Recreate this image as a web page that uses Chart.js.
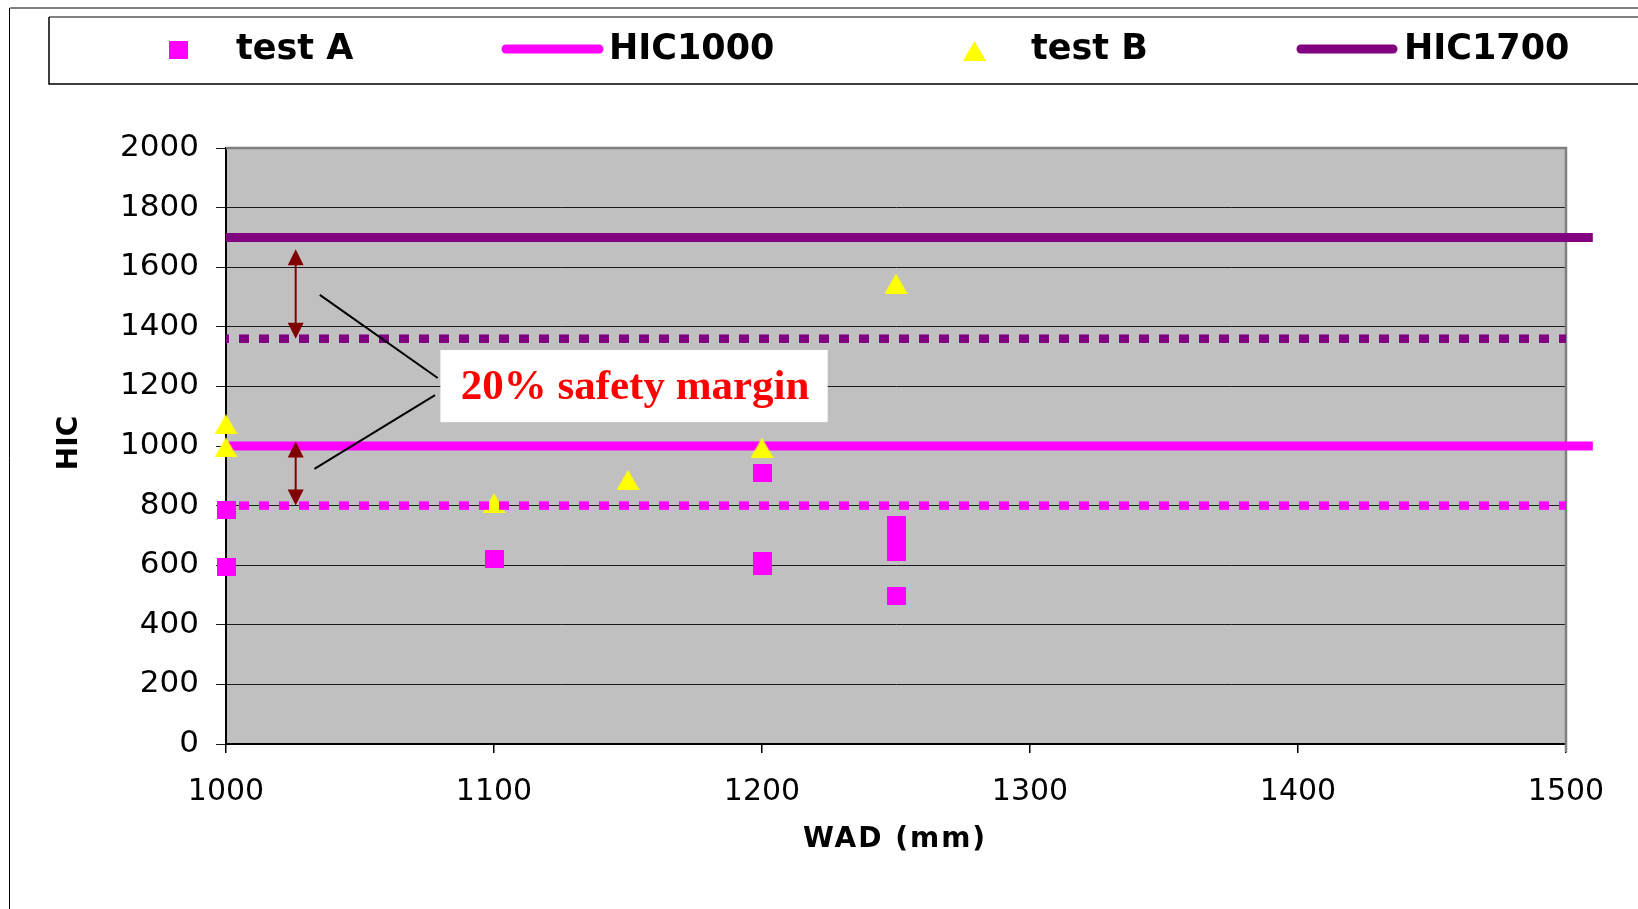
<!DOCTYPE html>
<html>
<head>
<meta charset="utf-8">
<title>HIC vs WAD</title>
<script src="https://cdn.jsdelivr.net/npm/chart.js@4.4.1/dist/chart.umd.min.js"></script>
<style>
  html, body { margin: 0; padding: 0; background: #fff; }
  canvas { display: block; }
</style>
</head>
<body>
<canvas id="hicChart" width="1638" height="909"></canvas>
<script>
// data
const testAWad = [1000, 1000, 1100, 1200, 1200, 1200, 1250, 1250, 1250, 1250];
const testAHic = [595, 784, 620, 909, 615, 597, 734, 675, 644, 498];
const testBWad = [1000, 1000, 1100, 1150, 1200, 1250];
const testBHic = [1073, 996, 808, 886, 994, 1545];
const limitWad = [1000, 1510];
const marginWad = [1000, 1500];
const hic1000 = 1000;
const hic1700 = 1700;
const safety = 0.8;
const wadTicks = [1000, 1100, 1200, 1300, 1400, 1500];
const hicTicks = [0, 200, 400, 600, 800, 1000, 1200, 1400, 1600, 1800, 2000];

// annotation, in data units
const arrowWad = 1026;
const arrowSpans = [[1660, 1360], [1015, 800]];
const leaderLines = [[[1035, 1507], [1079, 1228]], [[1033, 923], [1078, 1171]]];
const noteBox = { x0: 1080, x1: 1224.5, y0: 1322, y1: 1080, text: '20% safety margin' };

const toPoints = (xs, ys) => xs.map((x, i) => ({ x: x, y: ys[i] }));
const flat = (xs, v) => xs.map(x => ({ x: x, y: v }));

// markers centred on their box, like the original chart's markers
function markerCanvas(w, h, color, shape) {
    const c = document.createElement('canvas');
    c.width = w;
    c.height = h;
    const g = c.getContext('2d');
    g.fillStyle = color;
    if (shape === 'triangle') {
        g.beginPath();
        g.moveTo(w / 2, 0);
        g.lineTo(w, h);
        g.lineTo(0, h);
        g.closePath();
        g.fill();
    } else {
        g.fillRect(0, 0, w, h);
    }
    return c;
}
const squareMark = markerCanvas(19, 18, '#ff00ff', 'rect');
const triangleMark = markerCanvas(23, 20, '#ffff00', 'triangle');

const decor = {
    id: 'decor',
    beforeDraw(chart) {
        const ctx = chart.ctx;
        const a = chart.chartArea;
        ctx.save();
        ctx.fillStyle = '#fff';
        ctx.fillRect(0, 0, chart.width, chart.height);
        // outer frame
        ctx.strokeStyle = '#808080';
        ctx.lineWidth = 2;
        ctx.beginPath();
        ctx.moveTo(10, 8);
        ctx.lineTo(chart.width, 8);
        ctx.stroke();
        ctx.strokeStyle = '#000';
        ctx.lineWidth = 1;
        ctx.beginPath();
        ctx.moveTo(9.5, 8);
        ctx.lineTo(9.5, chart.height);
        ctx.stroke();
        // plot background
        ctx.fillStyle = '#c0c0c0';
        ctx.fillRect(a.left, a.top, a.right - a.left, a.bottom - a.top);
        ctx.restore();
    },
    beforeDatasetsDraw(chart) {
        const ctx = chart.ctx;
        const a = chart.chartArea;
        ctx.save();
        ctx.strokeStyle = '#808080';
        ctx.lineWidth = 2.5;
        ctx.beginPath();
        ctx.moveTo(a.left, a.top);
        ctx.lineTo(a.right, a.top);
        ctx.lineTo(a.right, a.bottom + 8);
        ctx.stroke();
        ctx.restore();
    },
    afterDraw(chart) {
        const ctx = chart.ctx;
        const xs = chart.scales.x;
        const ys = chart.scales.y;
        const px = v => xs.getPixelForValue(v);
        const py = v => ys.getPixelForValue(v);
        ctx.save();

        // double arrows
        ctx.strokeStyle = '#800000';
        ctx.fillStyle = '#800000';
        ctx.lineWidth = 2;
        arrowSpans.forEach(([top, bot]) => {
            const x = px(arrowWad), y0 = py(top), y1 = py(bot);
            ctx.beginPath();
            ctx.moveTo(x, y0 + 10);
            ctx.lineTo(x, y1 - 10);
            ctx.stroke();
            ctx.beginPath();
            ctx.moveTo(x, y0);
            ctx.lineTo(x - 8, y0 + 16);
            ctx.lineTo(x + 8, y0 + 16);
            ctx.closePath();
            ctx.fill();
            ctx.beginPath();
            ctx.moveTo(x, y1);
            ctx.lineTo(x - 8, y1 - 16);
            ctx.lineTo(x + 8, y1 - 16);
            ctx.closePath();
            ctx.fill();
        });

        // leader lines
        ctx.strokeStyle = '#000';
        ctx.lineWidth = 2;
        leaderLines.forEach(([p, q]) => {
            ctx.beginPath();
            ctx.moveTo(px(p[0]), py(p[1]));
            ctx.lineTo(px(q[0]), py(q[1]));
            ctx.stroke();
        });

        // note box
        const bx0 = px(noteBox.x0), bx1 = px(noteBox.x1);
        const by0 = py(noteBox.y0), by1 = py(noteBox.y1);
        ctx.fillStyle = '#fff';
        ctx.fillRect(bx0, by0, bx1 - bx0, by1 - by0);
        ctx.fillStyle = '#ff0000';
        ctx.font = 'bold 43px "Liberation Serif"';
        ctx.textAlign = 'center';
        ctx.textBaseline = 'middle';
        ctx.fillText(noteBox.text, (bx0 + bx1) / 2 + 1, (by0 + by1) / 2 + 2);

        // axis titles
        ctx.fillStyle = '#000';
        ctx.font = 'bold 28px "DejaVu Sans"';
        ctx.letterSpacing = '2px';
        ctx.fillText('WAD (mm)', 895, 840);
        ctx.letterSpacing = '0px';
        ctx.save();
        ctx.translate(70, 443);
        ctx.rotate(-Math.PI / 2);
        ctx.fillText('HIC', 0, 0);
        ctx.restore();

        // legend box
        ctx.strokeStyle = '#808080';
        ctx.lineWidth = 2;
        ctx.beginPath();
        ctx.moveTo(49, 17);
        ctx.lineTo(chart.width, 17);
        ctx.stroke();
        ctx.strokeStyle = '#000';
        ctx.lineWidth = 1.5;
        ctx.beginPath();
        ctx.moveTo(49, 17);
        ctx.lineTo(49, 84);
        ctx.lineTo(chart.width, 84);
        ctx.stroke();

        // legend entries
        ctx.textAlign = 'left';
        ctx.font = 'bold 35px "DejaVu Sans"';
        ctx.drawImage(squareMark, 169, 41);
        ctx.fillStyle = '#000';
        ctx.fillText('test A', 236, 50);

        ctx.lineCap = 'round';
        ctx.lineWidth = 9;
        ctx.strokeStyle = '#ff00ff';
        ctx.beginPath();
        ctx.moveTo(506, 49);
        ctx.lineTo(599, 49);
        ctx.stroke();
        ctx.fillText('HIC1000', 609, 50);

        ctx.drawImage(triangleMark, 963, 41);
        ctx.fillText('test B', 1031, 50);

        ctx.strokeStyle = '#800080';
        ctx.beginPath();
        ctx.moveTo(1301, 49);
        ctx.lineTo(1393, 49);
        ctx.stroke();
        ctx.fillText('HIC1700', 1404, 50);

        ctx.restore();
    }
};

const ctx = document.getElementById('hicChart').getContext('2d');

new Chart(ctx, {
    type: 'scatter',
    data: {
        datasets: [
            {
                label: 'test A',
                data: toPoints(testAWad, testAHic),
                pointStyle: squareMark,
                pointRadius: 12,
                backgroundColor: '#ff00ff',
                borderColor: '#ff00ff',
                clip: false,
                order: 2
            },
            {
                label: 'HIC1000',
                data: flat(limitWad, hic1000),
                showLine: true,
                borderColor: '#ff00ff',
                borderWidth: 9,
                pointRadius: 0,
                clip: false,
                order: 5
            },
            {
                label: 'test B',
                data: toPoints(testBWad, testBHic),
                pointStyle: triangleMark,
                pointRadius: 12,
                backgroundColor: '#ffff00',
                borderColor: '#ffff00',
                clip: false,
                order: 3
            },
            {
                label: 'HIC1700',
                data: flat(limitWad, hic1700),
                showLine: true,
                borderColor: '#800080',
                borderWidth: 9,
                pointRadius: 0,
                clip: false,
                order: 4
            },
            {
                label: 'HIC1000 x0.8',
                data: flat(marginWad, hic1000 * safety),
                showLine: true,
                borderColor: '#ff00ff',
                borderWidth: 8.5,
                borderDash: [10, 10],
                borderDashOffset: 7,
                pointRadius: 0,
                clip: false,
                order: 1
            },
            {
                label: 'HIC1700 x0.8',
                data: flat(marginWad, hic1700 * safety),
                showLine: true,
                borderColor: '#800080',
                borderWidth: 8.5,
                borderDash: [10, 10],
                borderDashOffset: 7,
                pointRadius: 0,
                clip: false,
                order: 1
            }
        ]
    },
    options: {
        responsive: false,
        animation: false,
        devicePixelRatio: 1,
        layout: {
            padding: { top: 148, right: 72, left: 0, bottom: 0 }
        },
        plugins: {
            legend: { display: false },
            tooltip: { enabled: false }
        },
        scales: {
            x: {
                type: 'linear',
                min: wadTicks[0],
                max: wadTicks[wadTicks.length - 1],
                afterFit: scale => { scale.height = 165; },
                afterBuildTicks: scale => { scale.ticks = wadTicks.map(v => ({ value: v })); },
                ticks: {
                    color: '#000',
                    padding: 21,
                    maxRotation: 0,
                    callback: v => String(v),
                    font: { family: 'DejaVu Sans', size: 30 }
                },
                grid: {
                    drawOnChartArea: false,
                    drawTicks: true,
                    tickLength: 9,
                    color: '#000',
                    lineWidth: 1.5
                },
                border: { color: '#000', width: 2 }
            },
            y: {
                type: 'linear',
                min: hicTicks[0],
                max: hicTicks[hicTicks.length - 1],
                afterFit: scale => { scale.width = 226; },
                afterBuildTicks: scale => { scale.ticks = hicTicks.map(v => ({ value: v })); },
                ticks: {
                    color: '#000',
                    padding: 17,
                    callback: v => String(v),
                    font: { family: 'DejaVu Sans', size: 31 }
                },
                grid: {
                    color: '#1a1a1a',
                    lineWidth: 1,
                    drawTicks: true,
                    tickLength: 10
                },
                border: { color: '#000', width: 2 }
            }
        }
    },
    plugins: [decor]
});
</script>
</body>
</html>
